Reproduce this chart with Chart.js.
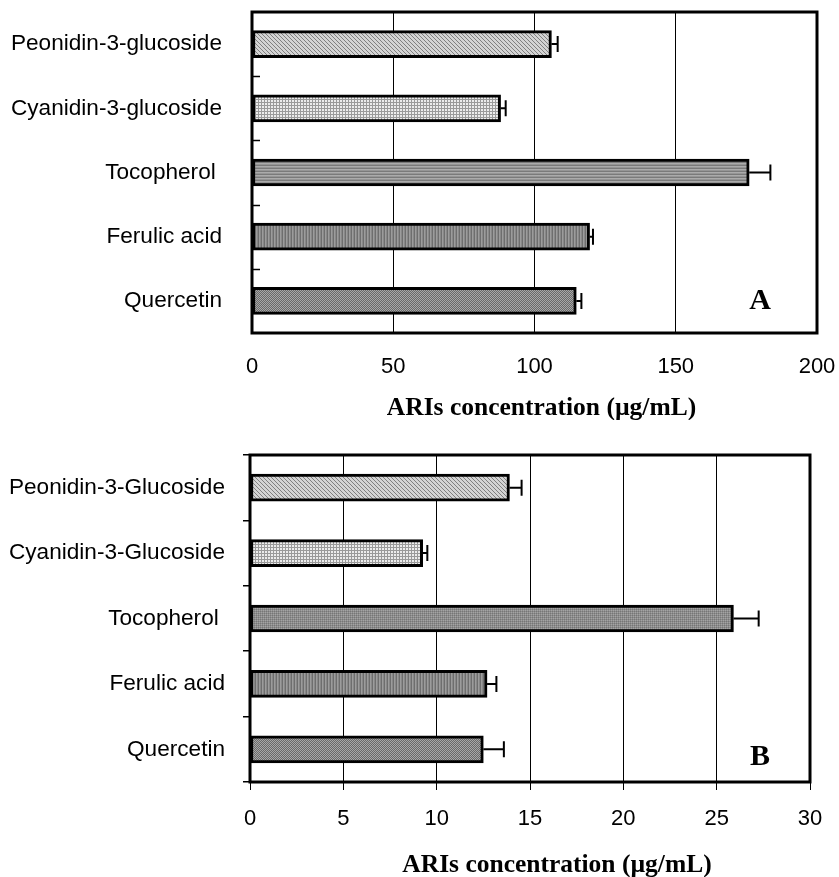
<!DOCTYPE html>
<html>
<head>
<meta charset="utf-8">
<script src="https://cdn.jsdelivr.net/npm/chart.js@4.4.1/dist/chart.umd.min.js"></script>
<style>
  html, body { margin: 0; padding: 0; background: #fff; }
  #wrap { position: relative; width: 839px; height: 877px; }
  canvas { position: absolute; left: 0; }
  #chartA { top: 0; }
  #chartB { top: 430px; }
</style>
</head>
<body>
<div id="wrap">
  <canvas id="chartA" width="839" height="420"></canvas>
  <canvas id="chartB" width="839" height="447"></canvas>
</div>
<script>
const categoriesA = ['Peonidin-3-glucoside', 'Cyanidin-3-glucoside', 'Tocopherol ', 'Ferulic acid', 'Quercetin'];
const valuesA = [106, 88, 176, 119.5, 114.8];
const errorsA = [2.2, 1.8, 7.5, 1.2, 1.8];
const ticksA = [0, 50, 100, 150, 200];

const categoriesB = ['Peonidin-3-Glucoside', 'Cyanidin-3-Glucoside', 'Tocopherol ', 'Ferulic acid', 'Quercetin'];
const valuesB = [13.9, 9.25, 25.9, 12.7, 12.5];
const errorsB = [0.65, 0.25, 1.35, 0.5, 1.1];
const ticksB = [0, 5, 10, 15, 20, 25, 30];

const axisTitle = 'ARIs concentration (µg/mL)';

// small grey hatch fills like the scanned figure
function makePattern(kind) {
  const c = document.createElement('canvas');
  const g = c.getContext('2d');
  if (kind === 'diag') {
    c.width = 4; c.height = 4;
    g.fillStyle = '#d4d4d4'; g.fillRect(0, 0, 4, 4);
    g.fillStyle = '#808080';
    for (let i = 0; i < 4; i++) g.fillRect(i, i, 1, 1);
  } else if (kind === 'grid') {
    c.width = 3; c.height = 3;
    g.fillStyle = '#ececec'; g.fillRect(0, 0, 3, 3);
    g.fillStyle = '#9a9a9a';
    g.fillRect(0, 0, 1, 3); g.fillRect(0, 0, 3, 1);
  } else if (kind === 'hlines') {
    c.width = 1; c.height = 3;
    g.fillStyle = '#7a7a7a'; g.fillRect(0, 0, 1, 1);
    g.fillStyle = '#ababab'; g.fillRect(0, 1, 1, 1);
    g.fillStyle = '#959595'; g.fillRect(0, 2, 1, 1);
  } else if (kind === 'vlines') {
    c.width = 3; c.height = 1;
    g.fillStyle = '#6e6e6e'; g.fillRect(0, 0, 1, 1);
    g.fillStyle = '#9c9c9c'; g.fillRect(1, 0, 1, 1);
    g.fillStyle = '#888888'; g.fillRect(2, 0, 1, 1);
  } else if (kind === 'checker') {
    c.width = 2; c.height = 2;
    g.fillStyle = '#6a6a6a'; g.fillRect(0, 0, 2, 2);
    g.fillStyle = '#a8a8a8'; g.fillRect(0, 0, 1, 1); g.fillRect(1, 1, 1, 1);
  } else {
    c.width = 2; c.height = 2;
    g.fillStyle = '#8c8c8c'; g.fillRect(0, 0, 2, 2);
    g.fillStyle = '#a4a4a4'; g.fillRect(1, 0, 1, 1);
    g.fillStyle = '#767676'; g.fillRect(0, 1, 1, 1);
  }
  return g.createPattern(c, 'repeat');
}

const frameAndErrors = {
  id: 'frameAndErrors',
  afterDatasetsDraw(chart, args, opts) {
    const { ctx, chartArea: a, scales: { x, y } } = chart;
    const vals = chart.data.datasets[0].data;
    ctx.save();
    ctx.strokeStyle = '#000';
    ctx.lineWidth = 2;
    opts.errors.forEach((e, i) => {
      const x0 = x.getPixelForValue(vals[i]);
      const x1 = x.getPixelForValue(vals[i] + e);
      const yc = y.getPixelForValue(i);
      ctx.beginPath();
      ctx.moveTo(x0, yc); ctx.lineTo(x1, yc);
      ctx.moveTo(x1, yc - 8); ctx.lineTo(x1, yc + 8);
      ctx.stroke();
    });
    if (opts.innerTicks) {
      ctx.lineWidth = 1.5;
      for (let i = 1; i < vals.length; i++) {
        const yb = Math.round((y.getPixelForValue(i - 1) + y.getPixelForValue(i)) / 2) + 0.5;
        ctx.beginPath();
        ctx.moveTo(a.left, yb); ctx.lineTo(a.left + 8, yb);
        ctx.stroke();
      }
    }
    ctx.lineWidth = 3;
    ctx.strokeRect(a.left, a.top, a.width, a.height);
    ctx.fillStyle = '#000';
    ctx.textAlign = 'center';
    ctx.textBaseline = 'middle';
    ctx.font = 'bold 30px "Liberation Serif"';
    ctx.fillText(opts.letter, a.right - opts.letterDx, a.bottom - opts.letterDy);
    ctx.font = 'bold 25.5px "Liberation Serif"';
    ctx.fillText(axisTitle, (a.left + a.right) / 2 + opts.titleDx, a.bottom + opts.titleDy);
    ctx.restore();
  }
};

function noPad(s) {
  s.paddingTop = 0; s.paddingBottom = 0; s.paddingLeft = 0; s.paddingRight = 0;
}

function buildChart(id, cfg) {
  return new Chart(document.getElementById(id), {
    type: 'bar',
    data: {
      labels: cfg.labels,
      datasets: [{
        data: cfg.values,
        backgroundColor: cfg.fills.map(makePattern),
        borderColor: '#000',
        borderWidth: 3,
        borderSkipped: false,
        barThickness: 27
      }]
    },
    options: {
      indexAxis: 'y',
      responsive: false,
      animation: false,
      layout: { padding: cfg.padding },
      plugins: {
        legend: { display: false },
        tooltip: { enabled: false },
        frameAndErrors: cfg.marks
      },
      scales: {
        x: {
          min: cfg.ticks[0],
          max: cfg.ticks[cfg.ticks.length - 1],
          afterBuildTicks: (s) => { s.ticks = cfg.ticks.map(v => ({ value: v })); },
          afterFit: (s) => { s.height = cfg.xHeight; noPad(s); },
          border: { display: false },
          grid: {
            color: '#000',
            lineWidth: 1,
            drawTicks: !cfg.marks.innerTicks,
            tickLength: 8
          },
          ticks: {
            color: '#000',
            padding: cfg.xTickPad,
            font: { family: '"Liberation Sans", Arial', size: 22 }
          }
        },
        y: {
          afterFit: (s) => { s.width = cfg.yWidth; noPad(s); },
          border: { display: false },
          grid: {
            display: !cfg.marks.innerTicks,
            drawOnChartArea: false,
            drawTicks: !cfg.marks.innerTicks,
            tickLength: 7,
            offset: true,
            color: '#000',
            lineWidth: 1.5
          },
          ticks: {
            color: '#000',
            padding: cfg.yTickPad,
            font: { family: '"Liberation Sans", Arial', size: 22.6 }
          }
        }
      }
    },
    plugins: [frameAndErrors]
  });
}

buildChart('chartA', {
  labels: categoriesA, values: valuesA, ticks: ticksA,
  fills: ['diag', 'grid', 'hlines', 'vlines', 'checker'],
  marks: { errors: errorsA, letter: 'A', innerTicks: true, letterDx: 57, letterDy: 32, titleDx: 7, titleDy: 75 },
  padding: { top: 12, right: 22, left: 0, bottom: 0 },
  yWidth: 252, xHeight: 87, xTickPad: 21, yTickPad: 30
});

buildChart('chartB', {
  labels: categoriesB, values: valuesB, ticks: ticksB,
  fills: ['diag', 'grid', 'fine', 'vlines', 'checker'],
  marks: { errors: errorsB, letter: 'B', innerTicks: false, letterDx: 50, letterDy: 25, titleDx: 27, titleDy: 83 },
  padding: { top: 25, right: 29, left: 0, bottom: 0 },
  yWidth: 250, xHeight: 95, xTickPad: 16, yTickPad: 18
});
</script>
</body>
</html>
